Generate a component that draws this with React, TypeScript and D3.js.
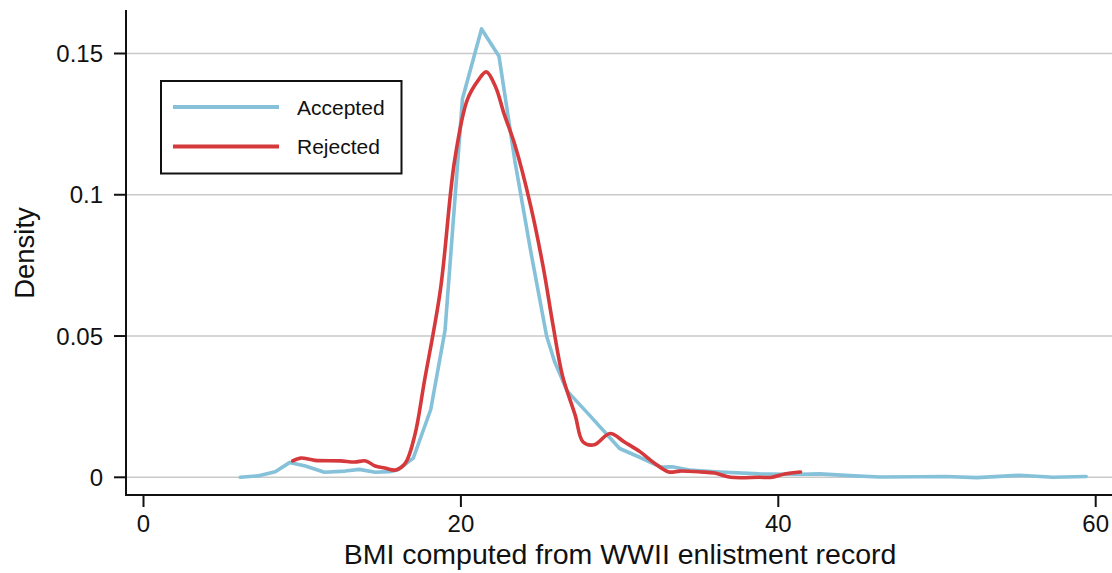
import * as d3 from "d3";
import { useEffect, useRef } from "react";

// Kernel density of BMI
const acceptedBmi = [6.1, 7.2, 8.3, 9.2, 10.2, 11.4, 12.7, 13.6, 14.6, 15.5, 16.0, 17.0, 18.1, 19.0, 20.1, 21.3, 22.4, 23.4, 24.4, 25.4, 25.9, 26.7, 28.1, 30.0, 31.3, 32.6, 33.3, 34.4, 36.3, 38.8, 41.4, 42.6, 44.5, 46.4, 48.9, 50.5, 52.5, 55.2, 57.3, 59.4];
const acceptedDensity = [0, 0.0005, 0.002, 0.0052, 0.004, 0.0018, 0.0022, 0.0028, 0.0018, 0.002, 0.0026, 0.0068, 0.024, 0.052, 0.134, 0.1587, 0.149, 0.112, 0.08, 0.05, 0.041, 0.0305, 0.022, 0.0102, 0.007, 0.0036, 0.0037, 0.0026, 0.0019, 0.0012, 0.0011, 0.0012, 0.0006, 0.0001, 0.0002, 0.0003, -0.0001, 0.0007, 0, 0.0003];

const rejectedBmi = [9.4, 9.9, 10.8, 12.4, 13.3, 14.0, 14.6, 15.2, 15.9, 16.5, 17.1, 17.7, 18.7, 19.6, 20.4, 21.1, 21.6, 22.2, 22.7, 23.4, 24.4, 25.2, 25.8, 26.4, 27.2, 27.7, 28.4, 29.4, 30.3, 31.3, 32.2, 33.1, 33.8, 35.1, 36.0, 37.0, 38.8, 39.6, 40.4, 41.4];
const rejectedDensity = [0.0058, 0.0068, 0.006, 0.0058, 0.0054, 0.0058, 0.004, 0.0033, 0.0026, 0.005, 0.015, 0.034, 0.066, 0.112, 0.1336, 0.1406, 0.1435, 0.138, 0.129, 0.1177, 0.096, 0.074, 0.054, 0.036, 0.022, 0.0125, 0.0115, 0.0155, 0.0125, 0.009, 0.005, 0.0019, 0.0022, 0.0019, 0.0015, 0, 0, 0, 0.0012, 0.0019];

const xTicks = [0, 20, 40, 60];
const yTicks = [0, 0.05, 0.1, 0.15];
const yTickLabels = ["0", "0.05", "0.1", "0.15"];
const seriesNames = ["Accepted", "Rejected"];
const seriesColors = ["#85c1d9", "#d6393b"];

const W = 1112;
const H = 573;
const FONT = "'Liberation Sans', Arial, sans-serif";

export default function App() {
  const ref = useRef<SVGSVGElement>(null);

  useEffect(() => {
    const svg = d3.select(ref.current);
    svg.selectAll("*").remove();

    const x = d3.scaleLinear().domain([0, 60]).range([143.5, 1095.7]);
    const y = d3.scaleLinear().domain([0, 0.15]).range([477.3, 53.5]);
    const axisX = 126;
    const axisY = 495;

    svg.append("rect").attr("width", W).attr("height", H).attr("fill", "#fff");

    // gridlines
    svg
      .append("g")
      .selectAll("line")
      .data(yTicks)
      .join("line")
      .attr("x1", axisX)
      .attr("x2", W)
      .attr("y1", (d) => y(d))
      .attr("y2", (d) => y(d))
      .attr("stroke", "#c9c9c9")
      .attr("stroke-width", 1.5);

    // axes
    svg.append("line").attr("x1", axisX).attr("x2", axisX).attr("y1", 10).attr("y2", axisY + 1)
      .attr("stroke", "#111").attr("stroke-width", 2);
    svg.append("line").attr("x1", axisX - 1).attr("x2", W).attr("y1", axisY).attr("y2", axisY)
      .attr("stroke", "#111").attr("stroke-width", 2);

    const yt = svg.append("g").selectAll("g").data(yTicks).join("g");
    yt.append("line")
      .attr("x1", axisX - 12)
      .attr("x2", axisX)
      .attr("y1", (d) => y(d))
      .attr("y2", (d) => y(d))
      .attr("stroke", "#111")
      .attr("stroke-width", 2);
    yt.append("text")
      .attr("x", 103)
      .attr("y", (d) => y(d) + 8.5)
      .attr("text-anchor", "end")
      .attr("font-family", FONT)
      .attr("font-size", 24)
      .attr("fill", "#111")
      .text((d, i) => yTickLabels[i]);

    const xt = svg.append("g").selectAll("g").data(xTicks).join("g");
    xt.append("line")
      .attr("x1", (d) => x(d))
      .attr("x2", (d) => x(d))
      .attr("y1", axisY)
      .attr("y2", axisY + 12)
      .attr("stroke", "#111")
      .attr("stroke-width", 2);
    xt.append("text")
      .attr("x", (d) => x(d))
      .attr("y", 532)
      .attr("text-anchor", "middle")
      .attr("font-family", FONT)
      .attr("font-size", 24)
      .attr("fill", "#111")
      .text((d) => String(d));

    svg.append("text")
      .attr("x", 620)
      .attr("y", 564)
      .attr("text-anchor", "middle")
      .attr("font-family", FONT)
      .attr("font-size", 28.5)
      .attr("fill", "#111")
      .text("BMI computed from WWII enlistment record");

    svg.append("text")
      .attr("transform", "translate(34,253) rotate(-90)")
      .attr("text-anchor", "middle")
      .attr("font-family", FONT)
      .attr("font-size", 27.5)
      .attr("fill", "#111")
      .text("Density");

    // density curves: accepted drawn as straight segments, rejected smoother
    const curves = [d3.curveLinear, d3.curveCatmullRom.alpha(0.5)];
    const series: [number, number][][] = [
      acceptedBmi.map((b, i) => [b, acceptedDensity[i]]),
      rejectedBmi.map((b, i) => [b, rejectedDensity[i]]),
    ];
    series.forEach((pts, i) => {
      const line = d3
        .line<[number, number]>()
        .x((d) => x(d[0]))
        .y((d) => y(d[1]))
        .curve(curves[i]);
      svg.append("path")
        .datum(pts)
        .attr("d", line)
        .attr("fill", "none")
        .attr("stroke", seriesColors[i])
        .attr("stroke-width", 3.6)
        .attr("stroke-linejoin", "round")
        .attr("stroke-linecap", "round");
    });

    // legend
    const lg = svg.append("g");
    lg.append("rect")
      .attr("x", 161)
      .attr("y", 81)
      .attr("width", 240.5)
      .attr("height", 92.5)
      .attr("fill", "#fff")
      .attr("stroke", "#111")
      .attr("stroke-width", 2);
    seriesNames.forEach((name, i) => {
      const ly = 107 + i * 39.5;
      lg.append("line")
        .attr("x1", 173)
        .attr("x2", 279)
        .attr("y1", ly)
        .attr("y2", ly)
        .attr("stroke", seriesColors[i])
        .attr("stroke-width", 4);
      lg.append("text")
        .attr("x", 297)
        .attr("y", ly + 7.5)
        .attr("font-family", FONT)
        .attr("font-size", 21)
        .attr("fill", "#111")
        .text(name);
    });
  }, []);

  return (
    <svg
      ref={ref}
      width={W}
      height={H}
      style={{ position: "absolute", left: 0, top: 0 }}
    />
  );
}
